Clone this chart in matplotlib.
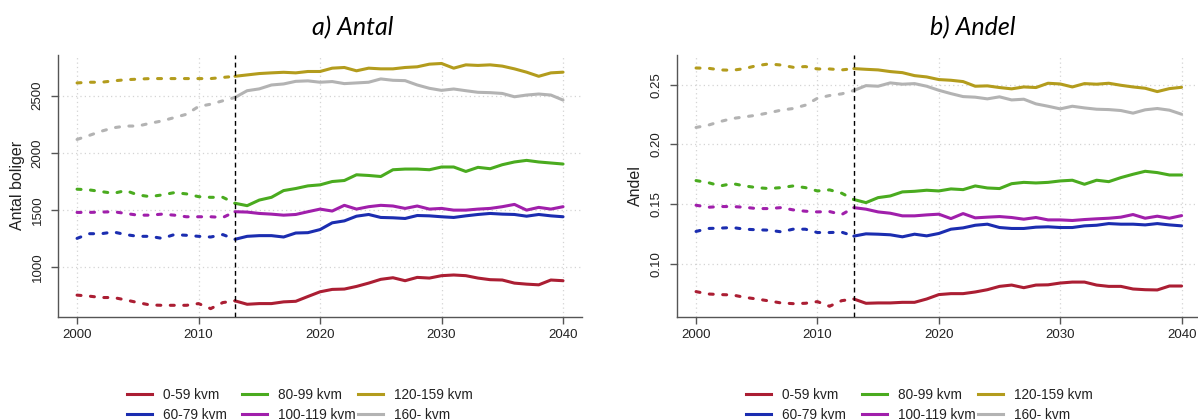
import matplotlib.pyplot as plt
from matplotlib.lines import Line2D
import numpy as np

years = np.arange(2000, 2041)
split_year = 2013
groups = ['0-59 kvm', '60-79 kvm', '80-99 kvm', '100-119 kvm', '120-159 kvm', '160- kvm']
colors = ['#ab1e33', '#1b2db0', '#4aab1f', '#a01fab', '#b39c1d', '#b3b3b3']

# a) Antal boliger, 2000-2040
antal_0_59 = [757, 748, 736, 736, 715, 692, 671, 668, 668, 668, 683, 639, 692, 707,
              677, 683, 683, 698, 703, 745, 786, 807, 810, 833, 862, 895, 909, 883, 912,
              906, 927, 933, 927, 906, 892, 889, 862, 853, 847, 889, 883]
antal_60_79 = [1253, 1294, 1294, 1309, 1286, 1271, 1271, 1253, 1286, 1280, 1271, 1265, 1286, 1245,
               1271, 1277, 1277, 1265, 1300, 1303, 1330, 1389, 1406, 1447, 1462, 1436, 1433, 1427,
               1453, 1450, 1442, 1436, 1450, 1462, 1471, 1465, 1462, 1447, 1462, 1450, 1442]
antal_80_99 = [1683, 1677, 1662, 1647, 1671, 1633, 1618, 1633, 1653, 1642, 1618, 1612, 1612, 1560,
               1539, 1588, 1612, 1671, 1689, 1712, 1721, 1750, 1759, 1809, 1803, 1794, 1853, 1859,
               1859, 1853, 1877, 1877, 1838, 1874, 1862, 1897, 1921, 1935, 1921, 1912, 1903]
antal_100_119 = [1480, 1480, 1483, 1486, 1471, 1456, 1456, 1465, 1456, 1442, 1442, 1442, 1436, 1486,
                 1483, 1471, 1465, 1456, 1462, 1486, 1509, 1492, 1542, 1509, 1530, 1542, 1536, 1515,
                 1536, 1509, 1515, 1500, 1500, 1509, 1515, 1530, 1550, 1500, 1524, 1509, 1530]
antal_120_159 = [2612, 2618, 2618, 2630, 2640, 2645, 2650, 2650, 2650, 2650, 2650, 2650, 2660, 2670,
                 2682, 2694, 2700, 2705, 2700, 2712, 2712, 2741, 2747, 2718, 2741, 2735, 2735, 2747,
                 2753, 2776, 2782, 2741, 2770, 2765, 2770, 2759, 2735, 2706, 2670, 2700, 2706]
antal_160 = [2118, 2153, 2190, 2220, 2235, 2235, 2259, 2280, 2309, 2338, 2406, 2426, 2456, 2485,
             2544, 2560, 2594, 2603, 2626, 2630, 2618, 2624, 2606, 2612, 2618, 2647, 2635, 2632,
             2594, 2565, 2547, 2559, 2544, 2530, 2527, 2520, 2491, 2506, 2515, 2506, 2462]

# b) Andel, 2000-2040
andel_0_59 = [.0765, .0745, .074, .0737, .0717, .0703, .0687, .067, .0664, .0667, .0681, .0642, .0689, .0703,
              .0667, .067, .067, .0675, .0675, .0703, .074, .0748, .0748, .0762, .0781, .0809, .082, .0798,
              .082, .0822, .0837, .0845, .0845, .082, .0809, .0809, .0787, .0781, .0779, .0812, .0812]
andel_60_79 = [.127, .1295, .1298, .1303, .1289, .1284, .1281, .1267, .1289, .1289, .1261, .1261, .1264, .1231,
               .125, .1247, .1242, .1225, .1247, .1233, .1253, .1289, .13, .1322, .1331, .1303, .1295, .1295,
               .1306, .1309, .1303, .1303, .1317, .1322, .1336, .1331, .1331, .1325, .1336, .1325, .1317]
andel_80_99 = [.1697, .168, .1652, .1672, .1652, .1638, .163, .1638, .1652, .1638, .161, .1619, .1591, .1538,
               .1512, .1554, .1568, .1602, .1607, .1616, .161, .1627, .1621, .1652, .1635, .163, .1671, .1682,
               .1677, .1682, .1694, .17, .1666, .17, .1688, .1722, .175, .1775, .1764, .1744, .1744]
andel_100_119 = [.149, .1473, .1479, .1479, .1473, .1462, .1462, .147, .1451, .144, .1434, .1437, .1412, .147,
                 .1457, .1434, .1423, .1401, .1401, .1409, .1415, .1378, .142, .1384, .139, .1395, .1387, .1373,
                 .1387, .1367, .1367, .1362, .137, .1376, .1381, .139, .1412, .1381, .1398, .1381, .1403]
andel_120_159 = [.2642, .264, .2626, .2623, .2637, .2662, .2676, .2667, .2648, .2654, .2634, .2634, .2626, .2637,
                 .2631, .2626, .2612, .2603, .2578, .2567, .2545, .2539, .2528, .2489, .2492, .2478, .2467, .2483,
                 .2478, .2514, .2508, .2483, .2511, .2506, .2514, .2497, .2483, .2472, .2444, .2469, .248]
andel_160 = [.2143, .2162, .2193, .2218, .2232, .2246, .2266, .2288, .2302, .233, .2388, .2411, .2425, .2453,
             .2494, .2489, .2517, .2506, .2511, .2489, .2455, .2427, .2402, .2397, .2383, .24, .2374, .238,
             .2341, .2321, .2299, .2321, .2307, .2296, .2293, .2285, .2263, .2291, .2302, .2288, .2254]

antal = [antal_0_59, antal_60_79, antal_80_99, antal_100_119, antal_120_159, antal_160]
andel = [andel_0_59, andel_60_79, andel_80_99, andel_100_119, andel_120_159, andel_160]

plt.rcParams['font.family'] = ['Liberation Sans', 'DejaVu Sans']

fig = plt.figure(figsize=(11.98, 4.19), dpi=100)
ax1 = fig.add_axes([0.0481, 0.2446, 0.4381, 0.6241])
ax2 = fig.add_axes([0.5648, 0.2446, 0.4377, 0.6241])

LW = 2.2
hist = years <= split_year
proj = years >= split_year


def draw(ax, series, ylim, yticks, yticklabels, ylabel):
    for vals, c in zip(series, colors):
        vals = np.array(vals)
        ax.plot(years[hist], vals[hist], color=c, lw=LW, dashes=(1.3, 3.1),
                dash_capstyle='round', zorder=3)
        ax.plot(years[proj], vals[proj], color=c, lw=LW, solid_capstyle='round',
                solid_joinstyle='round', zorder=3)
    ax.axvline(split_year, color='black', lw=1, dashes=(3.5, 2.5), zorder=4)
    ax.set_xlim(1998.4, 2041.6)
    ax.set_ylim(*ylim)
    ax.set_xticks([2000, 2010, 2020, 2030, 2040])
    ax.set_yticks(yticks)
    ax.set_yticklabels(yticklabels, rotation=90, va='center')
    ax.grid(True, color='#d4d4d4', lw=0.9, linestyle=(0, (1, 2.5)), zorder=0)
    for s in ['top', 'right']:
        ax.spines[s].set_visible(False)
    for s in ['left', 'bottom']:
        ax.spines[s].set_color('#555555')
        ax.spines[s].set_linewidth(1.0)
    ax.tick_params(axis='both', colors='#555555', length=5, width=1.0, labelcolor='#222222',
                   labelsize=9.5)
    ax.tick_params(axis='y', pad=5)
    ax.tick_params(axis='x', pad=4)
    ax.set_ylabel(ylabel, fontsize=11.5, color='#222222')


draw(ax1, antal, (570, 2856), [1000, 1500, 2000, 2500], ['1000', '1500', '2000', '2500'], 'Antal boliger')
draw(ax2, andel, (0.0556, 0.2751), [0.10, 0.15, 0.20, 0.25], ['0.10', '0.15', '0.20', '0.25'], 'Andel')
ax1.yaxis.set_label_coords(-0.062, 0.5)
ax2.yaxis.set_label_coords(-0.064, 0.5)

fig.text(353 / 1198, 0.935, 'a) Antal', fontsize=18, style='italic', family='Lato',
         ha='center', va='center')
fig.text(973 / 1198, 0.935, 'b) Andel', fontsize=18, style='italic', family='Lato',
         ha='center', va='center')

# legends: three columns of two entries under each panel
handles = [Line2D([], [], color=c, lw=LW) for c in colors]
for col_x in [[127, 242, 358], [746, 862, 978]]:
    for k, x in enumerate(col_x):
        fig.legend(handles[2 * k:2 * k + 2], groups[2 * k:2 * k + 2], loc='center left',
                   bbox_to_anchor=(x / 1198, 0.034), frameon=False, fontsize=9.8,
                   handlelength=1.85, handletextpad=0.8, labelspacing=0.42,
                   borderpad=0, borderaxespad=0, labelcolor='#222222')

fig.savefig('out.png', dpi=100)
